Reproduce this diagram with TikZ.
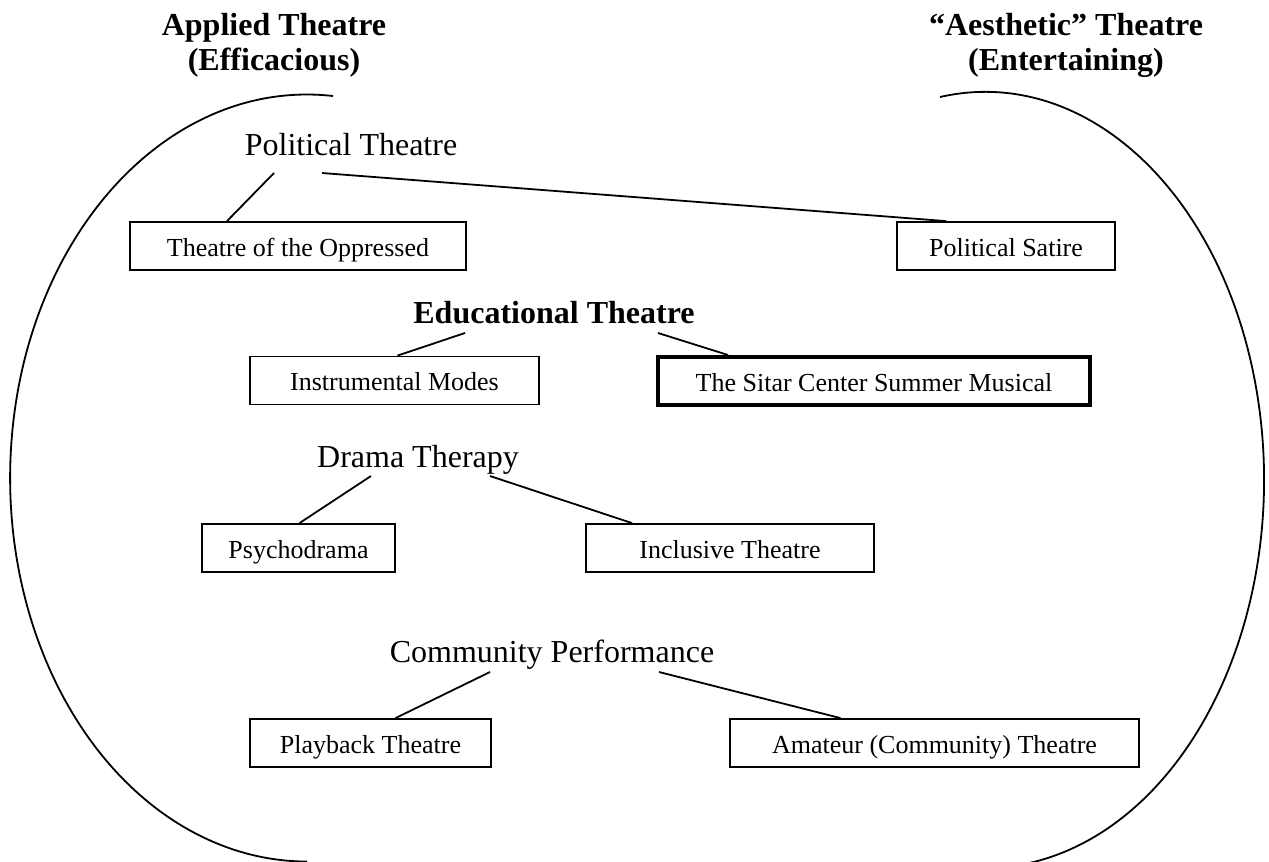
\documentclass[tikz,border=0pt]{standalone}
\usepackage{fontspec}
\setmainfont{Liberation Serif}
\tikzset{
	head/.style={font=\fontsize{16}{17.5}\selectfont, inner sep=0, anchor=base, align=center},
	headb/.style={head, font=\fontsize{16}{17.5}\selectfont\bfseries},
	leaf/.style={draw, line width=0.9pt, inner sep=0, minimum height=24pt,
		text height=10pt, text depth=0pt, font=\fontsize{13}{15}\selectfont},
	link/.style={line width=0.9pt},
}
\begin{document}
\begin{tikzpicture}[x=0.5pt,y=-0.5pt]
	\useasboundingbox (0,0) rectangle (1269,862);
	
	% the two sides
	\node[headb] (applied) at (274,70) {Applied Theatre\\(Efficacious)};
	\node[headb] (aesth) at (1066,70) {“Aesthetic” Theatre\\(Entertaining)};
	\draw[link] (333,96) arc[start angle=85, end angle=270, x radius=148.5pt, y radius=191.75pt];
	\draw[link] (940,97) arc[start angle=99.3, end angle=-90, x radius=139.5pt, y radius=194pt];
	
	% branches
	\node[head] (polit) at (351,155) {Political Theatre};
	\node[headb] (edu) at (554,323) {Educational Theatre};
	\node[head] (drama) at (418,467) {Drama Therapy};
	\node[head] (commun) at (552,662) {Community Performance};
	
	% leaves
	\node[leaf, minimum width=168pt] (toto) at (298,246) {Theatre of the Oppressed};
	\node[leaf, minimum width=109pt] (satire) at (1006,246) {Political Satire};
	\node[leaf, minimum width=144.5pt] (instr) at (394.5,380.5) {Instrumental Modes};
	\node[leaf, minimum width=216pt, line width=2pt] (sitar) at (874,381) {The Sitar Center Summer Musical};
	\node[leaf, minimum width=96.5pt] (psycho) at (298.5,548) {Psychodrama};
	\node[leaf, minimum width=144pt] (inclus) at (730,548) {Inclusive Theatre};
	\node[leaf, minimum width=120.5pt] (playb) at (370.5,743) {Playback Theatre};
	\node[leaf, minimum width=204.5pt] (amat) at (934.5,743) {Amateur (Community) Theatre};
	
	\draw[link] ([shift={(-77,18)}]polit.base) -- ([shift={(-71,0)}]toto.north);
	\draw[link] ([shift={(-29,18)}]polit.base) -- ([shift={(-60,0)}]satire.north);
	\draw[link] ([shift={(-89,10)}]edu.base) -- ([shift={(3,0)}]instr.north);
	\draw[link] ([shift={(104,10)}]edu.base) -- ([shift={(-146,0)}]sitar.north);
	\draw[link] ([shift={(-47,9)}]drama.base) -- ([shift={(1,0)}]psycho.north);
	\draw[link] ([shift={(72,9)}]drama.base) -- ([shift={(-98,0)}]inclus.north);
	\draw[link] ([shift={(-62,10)}]commun.base) -- ([shift={(25,0)}]playb.north);
	\draw[link] ([shift={(107,10)}]commun.base) -- ([shift={(-94,0)}]amat.north);
\end{tikzpicture}
\end{document}
